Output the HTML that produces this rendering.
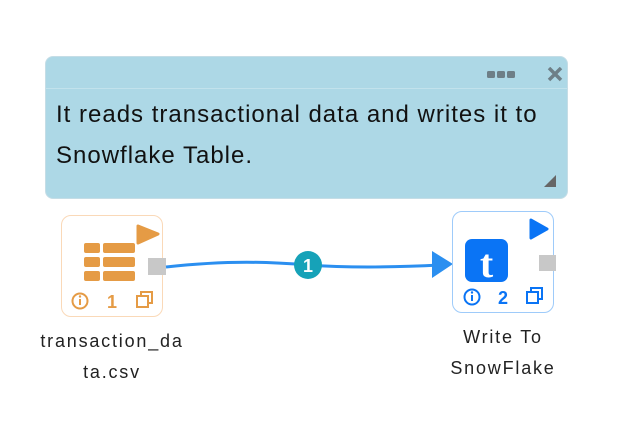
<!DOCTYPE html>
<html><head><style>
body{margin:0;width:624px;height:427px;background:#fff;position:relative;overflow:hidden;font-family:"Liberation Sans",sans-serif}
.note{position:absolute;left:45px;top:56px;width:523px;height:143px;background:#add8e6;border-radius:8px;border:1px solid #c5dde6;box-sizing:border-box}
.hdr{position:absolute;left:0;right:0;top:31px;border-top:1px solid #c2e2ec}
.txt{position:absolute;left:10px;top:37px;font-size:24px;letter-spacing:1px;line-height:41px;color:#111;white-space:nowrap}
.node{position:absolute;width:102px;height:102px;border-radius:10px;box-sizing:border-box;background:#fff}
.lbl{position:absolute;font-size:18px;letter-spacing:1.8px;color:#222;text-align:center;line-height:31px}
</style></head><body>
<div class="note"><div class="hdr"></div>
<svg style="position:absolute;left:440px;top:10px" width="80" height="20">
<rect x="1" y="4" width="8" height="7" rx="1.5" fill="#6e7f87"/><rect x="11" y="4" width="8" height="7" rx="1.5" fill="#6e7f87"/><rect x="21" y="4" width="8" height="7" rx="1.5" fill="#6e7f87"/>
<path d="M63 1 L75 13 M75 1 L63 13" stroke="#6e7f87" stroke-width="3.5"/></svg>
<div class="txt">It reads transactional data and writes it to<br>Snowflake Table.</div>
<svg style="position:absolute;left:496px;top:116px" width="16" height="16"><path d="M2 14 L14 2 L14 14 Z" fill="#666"/></svg>
</div>
<div class="node" style="left:61px;top:215px;border:1px solid #fad9b8"></div>
<svg style="position:absolute;left:0;top:0" width="624" height="427">
<path d="M138 226 L158 234 L138 243 Z" fill="#e59b45" stroke="#e59b45" stroke-linejoin="round" stroke-width="3"/>
<g fill="#e59b45">
<rect x="84" y="243" width="16" height="10" rx="2"/><rect x="103" y="243" width="32" height="10" rx="2"/>
<rect x="84" y="257" width="16" height="10" rx="2"/><rect x="103" y="257" width="32" height="10" rx="2"/>
<rect x="84" y="271" width="16" height="10" rx="2"/><rect x="103" y="271" width="32" height="10" rx="2"/>
</g>
<circle cx="80" cy="301" r="7.5" fill="none" stroke="#e59b45" stroke-width="2"/><rect x="79" y="299" width="2" height="6" fill="#e59b45"/><circle cx="80" cy="296.5" r="1.2" fill="#e59b45"/>
<text x="112" y="308" font-size="18" font-weight="bold" fill="#e59b45" text-anchor="middle" font-family="Liberation Sans">1</text>
<rect x="137" y="296" width="11" height="11" fill="none" stroke="#e59b45" stroke-width="2"/><path d="M141 296 V292 H152 V303 H148" fill="none" stroke="#e59b45" stroke-width="2"/>
<rect x="148" y="258" width="18" height="17" fill="#c8c8c8"/>
<path d="M166 267 C230 260 270 262 308 265 C350 268 400 267 440 265" fill="none" stroke="#2b8ff0" stroke-width="3"/>
<path d="M432 251 L453 264 L432 278 Z" fill="#2b8ff0"/>
<circle cx="308" cy="265" r="14" fill="#16a2b8"/>
<text x="308" y="272" font-size="18" font-weight="bold" fill="#fff" text-anchor="middle" font-family="Liberation Sans">1</text>
</svg>
<div class="node" style="left:452px;top:211px;border:1px solid #9ecbfa"></div>
<svg style="position:absolute;left:0;top:0" width="624" height="427">
<path d="M531 220 L547 229 L531 238 Z" fill="#0a74f5" stroke="#0a74f5" stroke-linejoin="round" stroke-width="3"/>
<rect x="465" y="239" width="43" height="43" rx="7" fill="#0a74f5"/>
<text x="486.5" y="277" font-size="40" font-weight="bold" fill="#fff" text-anchor="middle" font-family="Liberation Serif">t</text>
<circle cx="472" cy="297" r="7.5" fill="none" stroke="#0a74f5" stroke-width="2"/><rect x="471" y="295" width="2" height="6" fill="#0a74f5"/><circle cx="472" cy="292.5" r="1.2" fill="#0a74f5"/>
<text x="503" y="304" font-size="18" font-weight="bold" fill="#0a74f5" text-anchor="middle" font-family="Liberation Sans">2</text>
<rect x="527" y="292" width="11" height="11" fill="none" stroke="#0a74f5" stroke-width="2"/><path d="M531 292 V288 H542 V299 H538" fill="none" stroke="#0a74f5" stroke-width="2"/>
<rect x="539" y="255" width="17" height="16" fill="#c8c8c8"/>
</svg>
<div class="lbl" style="left:22px;top:326px;width:180px">transaction_da<br>ta.csv</div>
<div class="lbl" style="left:413px;top:322px;width:180px">Write To<br>SnowFlake</div>
</body></html>
